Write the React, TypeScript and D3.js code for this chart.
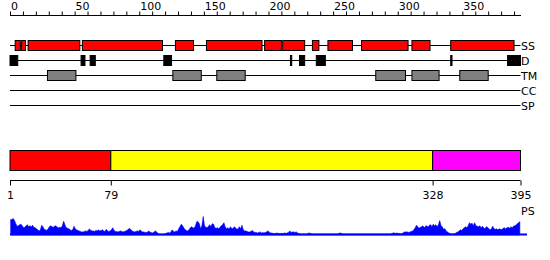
import React from "react";
import * as d3 from "d3";

const seqLength = 395;
const topTicks = d3.range(0, 400, 10);
const topTickLabels = [0, 50, 100, 150, 200, 250, 300, 350];

const ssSegments: [number, number][] = [
  [5, 8], [10, 12], [15, 54], [57, 118], [129, 142], [153, 195], [198, 210],
  [212, 228], [235, 239], [247, 265], [273, 308], [312, 325], [342, 390],
];
const disorderSegments: [number, number][] = [
  [1, 6], [56, 58], [63, 66], [120, 125], [218, 218], [225, 228], [238, 244],
  [342, 342], [386, 395],
];
const tmSegments: [number, number][] = [
  [30, 51], [127, 148], [161, 182], [284, 306], [312, 332], [349, 370],
];
const trackNames = ["SS", "D", "TM", "CC", "SP"];

const domainStarts = [1, 79, 328];
const domainEnds = [78, 327, 395];
const domainColors = ["#ff0000", "#ffff00", "#ff00ff"];
const domainTickLabels = ["1", "79", "328", "395"];

const psScores = [
  15, 15, 16, 14, 11, 8.5, 9, 10, 10.5, 9,
  7, 7.5, 9, 10, 8, 9, 8, 9.5, 7.5, 7,
  6, 5, 4, 5, 9.5, 8, 5.5, 5, 4.5, 6,
  8, 9, 8, 7.5, 8.5, 9, 7.5, 7, 7.5, 7,
  9, 13.5, 10, 7, 6.5, 6, 5, 4.5, 5, 8.5,
  6, 5, 4.5, 4, 3.5, 3, 3, 3.5, 4, 3.5,
  4.5, 6, 4.5, 4, 4, 3.5, 4.5, 4, 5, 4,
  4.5, 5, 4, 3.5, 5.5, 4, 3.5, 4, 5, 7,
  4.5, 3.5, 3.5, 3, 3.5, 4, 3.5, 3, 3.5, 4,
  4.5, 5.5, 6.5, 5, 4, 3.5, 3, 3.5, 4, 3.5,
  5, 4, 3, 3, 2.5, 2.5, 3, 4, 2.5, 2.5,
  2, 3, 4, 3, 1.5, 1, 0.8, 0.8, 0.8, 1,
  1.5, 2, 2.5, 2, 3, 5, 3.5, 3, 4, 3.5,
  6, 8, 10.5, 9, 7, 5, 4.5, 4, 5, 7,
  8, 7, 6.5, 9, 13, 13, 11, 6, 9, 18,
  9, 7.5, 7, 8.5, 10, 8, 11, 10.5, 7, 6.5,
  7, 6, 7.5, 9, 10, 12, 8, 6, 7, 5.5,
  8, 6.5, 6, 8, 7, 5.5, 6, 8, 6, 9.5,
  5, 4, 4, 3.5, 3, 3, 3.5, 4.5, 3, 2.5,
  2.5, 2, 2.5, 3, 2, 2.5, 2, 2.5, 3, 4,
  3, 2, 2, 1.5, 1.5, 1.5, 2, 1.5, 1.5, 1.5,
  1.5, 1.5, 2, 1.5, 2, 2.5, 4, 2.5, 3, 3,
  2.5, 3, 2, 1.5, 1, 1, 1, 1, 1, 1,
  1.5, 2, 1.5, 1, 1, 1, 1, 1, 1, 1,
  1, 1, 1, 1, 1, 1, 1, 1, 1, 1,
  1, 1, 1, 1, 1.5, 2, 1.5, 1, 1, 1,
  1, 1, 1, 1, 1, 1, 1, 1, 1, 1,
  1, 1, 1, 1, 1, 1, 1, 1, 1, 1,
  1, 1, 1, 1, 1, 1, 1, 1, 1, 1,
  1, 1, 1, 1, 1, 1.5, 2, 2, 1.5, 2,
  1.5, 1.5, 1, 1.5, 2.5, 3, 3, 3, 2.5, 3,
  3.5, 4, 5, 7, 9.5, 8, 6.5, 7.5, 8, 9,
  7, 8.5, 9, 7.5, 9.5, 10, 8, 10.5, 9, 10,
  8, 10, 14, 9, 8, 5.5, 6, 4, 3, 2,
  1.5, 1, 1, 1, 1.5, 2.5, 3, 4, 5, 4.5,
  6, 7, 8, 7, 9, 12, 10.5, 11.5, 9, 12,
  9, 8.5, 8, 9, 7, 8.5, 7, 6, 8, 7.5,
  6, 5, 6, 8.5, 6, 5.5, 6, 5, 6, 5.5,
  5, 6.5, 7, 6, 7, 7.5, 6.5, 8, 7, 8.5,
  9, 9.5, 11, 12, 13,
];

const FONT = "DejaVu Sans, sans-serif";

export default function App() {
  const W = 550, H = 260;
  const x = d3.scaleLinear().domain([0, seqLength]).range([10, 520.5]);
  const trackY = d3.scalePoint<string>().domain(trackNames).range([45.5, 105.5]);
  const yPS = d3.scaleLinear().domain([0, 18]).range([235, 216.5]);

  const area = d3
    .area<number>()
    .x((_, i) => x(i + 0.5))
    .y0(yPS(0))
    .y1((d) => yPS(d))
    .curve(d3.curveLinear);

  const tracks: Record<string, { segs: [number, number][]; fill: string }> = {
    SS: { segs: ssSegments, fill: "#ff0000" },
    D: { segs: disorderSegments, fill: "#000000" },
    TM: { segs: tmSegments, fill: "#808080" },
    CC: { segs: [], fill: "#000" },
    SP: { segs: [], fill: "#000" },
  };

  const axisY = 15.5;
  const bottomAxisY = 180.5;
  const bottomTickPos = [...domainStarts.map((s) => s - 1), seqLength];

  return (
    <svg width={W} height={H} style={{ position: "absolute", left: 0, top: 0, background: "#fff" }}>
      {/* top ruler */}
      <line x1={x(0)} x2={x(seqLength) + 0.5} y1={axisY} y2={axisY} stroke="#000" />
      {topTicks.map((t) => (
        <line key={t} x1={x(t) + 0.5} x2={x(t) + 0.5} y1={axisY - 4} y2={axisY} stroke="#000" />
      ))}
      {topTickLabels.map((t) => (
        <text key={t} x={x(t) + 1} y={10} fontFamily={FONT} fontSize={11} fill="#000">
          {t}
        </text>
      ))}

      {/* tracks */}
      {trackNames.map((name) => {
        const y = trackY(name)!;
        const tr = tracks[name];
        return (
          <g key={name}>
            <line x1={x(0)} x2={x(seqLength)} y1={y} y2={y} stroke="#000" />
            {tr.segs.map(([s, e], i) => (
              <rect
                key={i}
                x={x(s - 1)}
                y={y - 5}
                width={x(e) - x(s - 1)}
                height={10}
                fill={tr.fill}
                stroke="#000"
                strokeWidth={1}
              />
            ))}
            <text x={x(seqLength) + 0.5} y={y + 4.5} fontFamily={FONT} fontSize={11} fill="#000">
              {name}
            </text>
          </g>
        );
      })}

      {/* domain bar */}
      {domainStarts.map((s, i) => (
        <rect
          key={i}
          x={x(s - 1)}
          y={150.5}
          width={x(domainEnds[i]) - x(s - 1)}
          height={20}
          fill={domainColors[i]}
          stroke="#000"
        />
      ))}

      {/* bottom axis */}
      <line x1={x(0)} x2={x(seqLength)} y1={bottomAxisY} y2={bottomAxisY} stroke="#000" />
      {bottomTickPos.map((p, i) => (
        <g key={i}>
          <line x1={x(p) + 0.5} x2={x(p) + 0.5} y1={bottomAxisY} y2={bottomAxisY + 5} stroke="#000" />
          <text x={x(p) + 0.5} y={199} textAnchor="middle" fontFamily={FONT} fontSize={11} fill="#000">
            {domainTickLabels[i]}
          </text>
        </g>
      ))}

      {/* PS profile */}
      <text x={x(seqLength) + 0.5} y={215} fontFamily={FONT} fontSize={11} fill="#000">
        PS
      </text>
      <path d={area(psScores) || ""} fill="#0000ff" stroke="#0000ff" strokeWidth={0.6} />
      <rect x={x(0)} y={233.5} width={527 - x(0)} height={2} fill="#0000ff" />
    </svg>
  );
}
